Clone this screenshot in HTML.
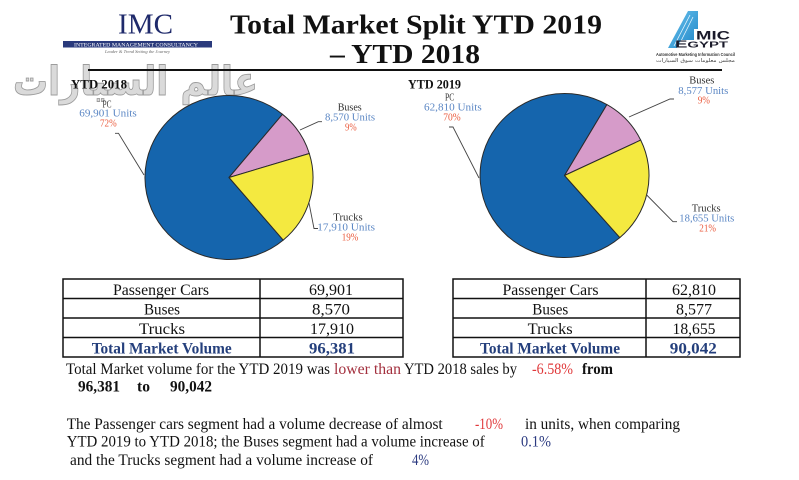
<!DOCTYPE html>
<html>
<head>
<meta charset="utf-8">
<style>
html,body{margin:0;padding:0;background:#fff;}
svg{display:block;}
text{font-family:"Liberation Serif","DejaVu Serif",serif;}
</style>
</head>
<body>
<svg width="799" height="480" viewBox="0 0 799 480" xmlns="http://www.w3.org/2000/svg">
<rect width="799" height="480" fill="#fff"/>

<!-- watermark -->
<text x="135.5" y="95" text-anchor="middle" font-family="DejaVu Sans, sans-serif" font-weight="bold" font-size="40" textLength="245" lengthAdjust="spacingAndGlyphs" fill="#dadada" stroke="#9c9c9c" stroke-width="0.9" style="font-family:'DejaVu Sans',sans-serif">عالم السيارات</text>

<!-- IMC logo -->
<text x="118" y="33.5" font-size="28" fill="#1f2a6b" textLength="55" lengthAdjust="spacingAndGlyphs">IMC</text>
<rect x="63" y="41" width="149" height="6.5" fill="#2a3a7c"/>
<text x="74" y="46.5" font-size="5.5" fill="#fff" textLength="124" lengthAdjust="spacingAndGlyphs">INTEGRATED MANAGEMENT CONSULTANCY</text>
<text x="105" y="53" font-size="4" font-style="italic" fill="#666" textLength="65" lengthAdjust="spacingAndGlyphs">Leader &amp; Trend Setting the Journey</text>

<!-- Title -->
<text x="230" y="33.5" font-size="27" font-weight="bold" fill="#111" textLength="372" lengthAdjust="spacingAndGlyphs">Total Market Split YTD 2019</text>
<text x="330" y="63" font-size="27" font-weight="bold" fill="#111" textLength="150" lengthAdjust="spacingAndGlyphs">– YTD 2018</text>
<line x1="88" y1="70" x2="722" y2="70" stroke="#111" stroke-width="2"/>

<!-- AMIC logo -->
<defs>
<linearGradient id="ag" x1="0" y1="0" x2="1" y2="1">
<stop offset="0" stop-color="#6cc4ee"/>
<stop offset="1" stop-color="#1f86c8"/>
</linearGradient>
</defs>
<polygon points="668,48 688,11 698,11 698,29 694,29 694,40 681,40 677,48" fill="url(#ag)"/>
<line x1="674" y1="46" x2="690" y2="15" stroke="#e8f6ff" stroke-width="0.8"/>
<line x1="679" y1="45" x2="693" y2="17" stroke="#e8f6ff" stroke-width="0.8"/>
<text x="696" y="39.5" font-family="Liberation Sans, sans-serif" style="font-family:'Liberation Sans',sans-serif" font-size="12" font-weight="bold" fill="#1a1a2a" textLength="34" lengthAdjust="spacingAndGlyphs">MIC</text>
<text x="675" y="47.5" font-family="Liberation Sans, sans-serif" style="font-family:'Liberation Sans',sans-serif" font-size="8" font-weight="bold" fill="#1a1a2a" textLength="53" lengthAdjust="spacingAndGlyphs"><tspan font-size="10">E</tspan>GYPT</text>
<text x="656" y="56" font-family="Liberation Sans, sans-serif" style="font-family:'Liberation Sans',sans-serif" font-size="4.5" font-weight="bold" fill="#333" textLength="79" lengthAdjust="spacingAndGlyphs">Automotive Marketing Information Council</text>
<text x="695.5" y="62" text-anchor="middle" font-family="DejaVu Sans, sans-serif" style="font-family:'DejaVu Sans',sans-serif" font-size="5" fill="#444" textLength="79" lengthAdjust="spacingAndGlyphs">مجلس معلومات سوق السيارات</text>

<!-- Pie 1 -->
<text x="71" y="88.3" font-size="12.5" font-weight="bold" fill="#111" textLength="56" lengthAdjust="spacingAndGlyphs">YTD 2018</text>
<g stroke="#2a2a2a" stroke-width="1" stroke-linejoin="round">
<path d="M229,177.5 L283.2,240.1 A84,82 0 1 1 282.5,114.3 Z" fill="#1565ad"/>
<path d="M229,177.5 L282.5,114.3 A84,82 0 0 1 309.3,153.5 Z" fill="#d69bc9"/>
<path d="M229,177.5 L309.3,153.5 A84,82 0 0 1 283.2,240.1 Z" fill="#f4e940"/>
</g>
<g fill="none" stroke="#444" stroke-width="0.9">
<polyline points="115,133.3 118.5,133.3 144,175"/>
<polyline points="300,130 318.3,121.7 322,121.7"/>
<polyline points="309,203 314,228.5 318,228.5"/>
</g>
<g font-size="11">
<text x="107" y="107.7" text-anchor="middle" fill="#333" textLength="9" lengthAdjust="spacingAndGlyphs">PC</text>
<text x="79.3" y="116.7" fill="#5a86c4" textLength="57.4" lengthAdjust="spacingAndGlyphs">69,901  Units</text>
<text x="100" y="126.7" fill="#ea5a3c" textLength="16.7" lengthAdjust="spacingAndGlyphs">72%</text>
<text x="337.7" y="110.7" fill="#333" textLength="24" lengthAdjust="spacingAndGlyphs">Buses</text>
<text x="325" y="120.7" fill="#5a86c4" textLength="50" lengthAdjust="spacingAndGlyphs">8,570 Units</text>
<text x="345" y="130.7" fill="#ea5a3c" textLength="11.7" lengthAdjust="spacingAndGlyphs">9%</text>
<text x="333.3" y="220.7" fill="#333" textLength="29.4" lengthAdjust="spacingAndGlyphs">Trucks</text>
<text x="317.3" y="230.7" fill="#5a86c4" textLength="57.7" lengthAdjust="spacingAndGlyphs">17,910 Units</text>
<text x="341.7" y="240.7" fill="#ea5a3c" textLength="16.6" lengthAdjust="spacingAndGlyphs">19%</text>
</g>

<!-- Pie 2 -->
<text x="408" y="88.3" font-size="12.5" font-weight="bold" fill="#111" textLength="53" lengthAdjust="spacingAndGlyphs">YTD 2019</text>
<g stroke="#2a2a2a" stroke-width="1" stroke-linejoin="round">
<path d="M564.5,175.5 L619.8,237.6 A84.5,82 0 1 1 606.9,104.6 Z" fill="#1565ad"/>
<path d="M564.5,175.5 L606.9,104.6 A84.5,82 0 0 1 640.7,140.1 Z" fill="#d69bc9"/>
<path d="M564.5,175.5 L640.7,140.1 A84.5,82 0 0 1 619.8,237.6 Z" fill="#f4e940"/>
</g>
<g fill="none" stroke="#444" stroke-width="0.9">
<polyline points="449,127 453,127 479,178"/>
<polyline points="629,117 670,99 674,99"/>
<polyline points="646.7,195 673,221.7 677,221.7"/>
</g>
<g font-size="11">
<text x="445" y="100.7" fill="#333" textLength="9.3" lengthAdjust="spacingAndGlyphs">PC</text>
<text x="424" y="110.7" fill="#5a86c4" textLength="57.7" lengthAdjust="spacingAndGlyphs">62,810  Units</text>
<text x="443.3" y="120.7" fill="#ea5a3c" textLength="17.4" lengthAdjust="spacingAndGlyphs">70%</text>
<text x="689.3" y="83.3" fill="#333" textLength="25" lengthAdjust="spacingAndGlyphs">Buses</text>
<text x="678.3" y="94" fill="#5a86c4" textLength="50" lengthAdjust="spacingAndGlyphs">8,577 Units</text>
<text x="697.7" y="103.3" fill="#ea5a3c" textLength="12.3" lengthAdjust="spacingAndGlyphs">9%</text>
<text x="691.7" y="211.7" fill="#333" textLength="29" lengthAdjust="spacingAndGlyphs">Trucks</text>
<text x="679.3" y="221.7" fill="#5a86c4" textLength="55" lengthAdjust="spacingAndGlyphs">18,655 Units</text>
<text x="699.3" y="231.7" fill="#ea5a3c" textLength="16.7" lengthAdjust="spacingAndGlyphs">21%</text>
</g>

<!-- Table 1 -->
<g fill="none" stroke="#111" stroke-width="1.5">
<rect x="63" y="279" width="340" height="78"/>
<line x1="63" y1="298.5" x2="403" y2="298.5"/>
<line x1="63" y1="318" x2="403" y2="318"/>
<line x1="63" y1="337.5" x2="403" y2="337.5"/>
<line x1="260" y1="279" x2="260" y2="357"/>
</g>
<g font-size="16" text-anchor="middle" fill="#111">
<text x="161" y="295" textLength="96" lengthAdjust="spacingAndGlyphs">Passenger Cars</text>
<text x="331" y="295" textLength="44" lengthAdjust="spacingAndGlyphs">69,901</text>
<text x="162" y="314.5" textLength="36" lengthAdjust="spacingAndGlyphs">Buses</text>
<text x="331" y="314.5" textLength="38" lengthAdjust="spacingAndGlyphs">8,570</text>
<text x="162" y="334" textLength="46" lengthAdjust="spacingAndGlyphs">Trucks</text>
<text x="332" y="334" textLength="44" lengthAdjust="spacingAndGlyphs">17,910</text>
<text x="161.7" y="353.5" font-weight="bold" fill="#243f7c" textLength="140" lengthAdjust="spacingAndGlyphs">Total Market Volume</text>
<text x="332" y="353.5" font-weight="bold" fill="#243f7c" textLength="46" lengthAdjust="spacingAndGlyphs">96,381</text>
</g>

<!-- Table 2 -->
<g fill="none" stroke="#111" stroke-width="1.5">
<rect x="453" y="279" width="287" height="78"/>
<line x1="453" y1="298.5" x2="740" y2="298.5"/>
<line x1="453" y1="318" x2="740" y2="318"/>
<line x1="453" y1="337.5" x2="740" y2="337.5"/>
<line x1="646" y1="279" x2="646" y2="357"/>
</g>
<g font-size="16" text-anchor="middle" fill="#111">
<text x="550.5" y="295" textLength="96" lengthAdjust="spacingAndGlyphs">Passenger Cars</text>
<text x="694" y="295" textLength="44" lengthAdjust="spacingAndGlyphs">62,810</text>
<text x="550.3" y="314.5" textLength="36" lengthAdjust="spacingAndGlyphs">Buses</text>
<text x="694" y="314.5" textLength="36" lengthAdjust="spacingAndGlyphs">8,577</text>
<text x="550.2" y="334" textLength="45" lengthAdjust="spacingAndGlyphs">Trucks</text>
<text x="694" y="334" textLength="43" lengthAdjust="spacingAndGlyphs">18,655</text>
<text x="550" y="353.5" font-weight="bold" fill="#243f7c" textLength="140" lengthAdjust="spacingAndGlyphs">Total Market Volume</text>
<text x="693.3" y="353.5" font-weight="bold" fill="#243f7c" textLength="47" lengthAdjust="spacingAndGlyphs">90,042</text>
</g>

<!-- Body text -->
<g font-size="15.5" fill="#111">
<text x="66" y="374" textLength="264" lengthAdjust="spacingAndGlyphs">Total Market volume for the YTD 2019 was</text>
<text x="334" y="374" fill="#a3303e" textLength="67" lengthAdjust="spacingAndGlyphs">lower than</text>
<text x="404" y="374" textLength="113" lengthAdjust="spacingAndGlyphs">YTD 2018 sales by</text>
<text x="532" y="374" fill="#e0383a" textLength="41" lengthAdjust="spacingAndGlyphs">-6.58%</text>
<text x="582" y="374" font-weight="bold" textLength="31" lengthAdjust="spacingAndGlyphs">from</text>

<text x="78" y="391.7" font-weight="bold" textLength="42" lengthAdjust="spacingAndGlyphs">96,381</text>
<text x="137" y="391.7" font-weight="bold" textLength="13" lengthAdjust="spacingAndGlyphs">to</text>
<text x="170" y="391.7" font-weight="bold" textLength="42" lengthAdjust="spacingAndGlyphs">90,042</text>

<text x="66.7" y="429" textLength="376" lengthAdjust="spacingAndGlyphs">The Passenger cars segment had a volume decrease of almost</text>
<text x="475" y="429" fill="#e0383a" textLength="28" lengthAdjust="spacingAndGlyphs">-10%</text>
<text x="525" y="429" textLength="155" lengthAdjust="spacingAndGlyphs">in units, when comparing</text>

<text x="66.7" y="446.7" textLength="418" lengthAdjust="spacingAndGlyphs">YTD 2019 to YTD 2018; the Buses segment had a volume increase of</text>
<text x="521" y="446.7" fill="#2b3a80" textLength="30" lengthAdjust="spacingAndGlyphs">0.1%</text>

<text x="70" y="465" textLength="303" lengthAdjust="spacingAndGlyphs">and the Trucks segment had a volume increase of</text>
<text x="412" y="465" fill="#2b3a80" textLength="17" lengthAdjust="spacingAndGlyphs">4%</text>
</g>
</svg>
</body>
</html>
